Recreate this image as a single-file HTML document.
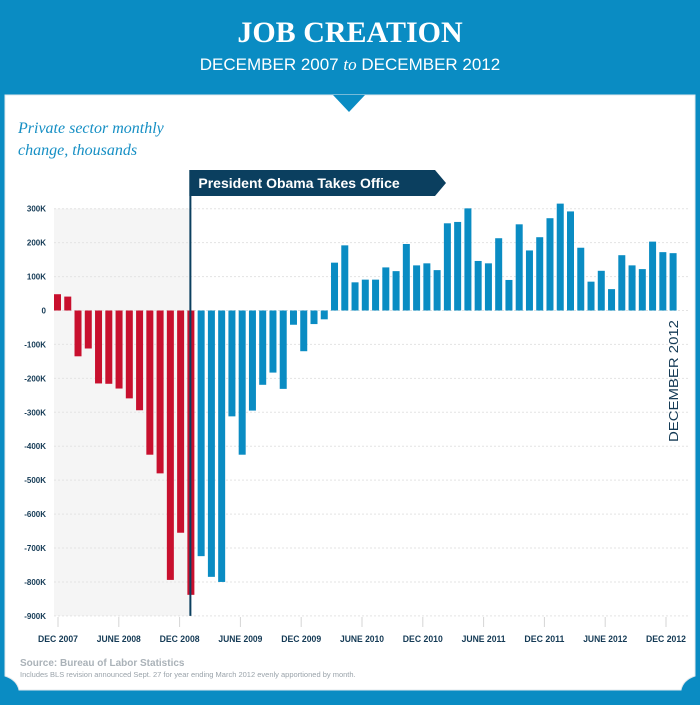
<!DOCTYPE html>
<html><head><meta charset="utf-8"><style>
body{margin:0;width:700px;height:700px;overflow:hidden;background:#0a8cc3;font-family:"Liberation Sans",sans-serif}
</style></head><body>
<svg width="700" height="700" xmlns="http://www.w3.org/2000/svg">
<rect x="0" y="0" width="700" height="700" fill="#0a8cc3"/>
<path d="M5 95 H695 V676 Q683 680 681 690 H19 Q17 680 5 676 Z" fill="#fff" stroke="#e2e8ec"/>
<path d="M333 95 L349 112 L365 95 Z" fill="#0a8cc3"/>
<text x="350" y="42" text-anchor="middle" fill="#fff" font-family="Liberation Serif,serif" font-weight="bold" font-size="30">JOB CREATION</text>
<text x="350" y="70" text-anchor="middle" fill="#fff" font-size="17">DECEMBER 2007 <tspan font-family="Liberation Serif,serif" font-style="italic">to</tspan> DECEMBER 2012</text>
<text x="18" y="133" fill="#168fc4" font-family="Liberation Serif,serif" font-style="italic" font-size="16">Private sector monthly</text>
<text x="18" y="155" fill="#168fc4" font-family="Liberation Serif,serif" font-style="italic" font-size="16">change, thousands</text>
<g id="chart"></g>
<text x="20" y="666" fill="#aab2b8" font-size="10" font-weight="bold">Source: Bureau of Labor Statistics</text>
<text x="20" y="677" fill="#9aa3aa" font-size="7.5">Includes BLS revision announced Sept. 27 for year ending March 2012 evenly apportioned by month.</text>
</svg>
<script>
const values=[48,41,-135,-112,-215,-216,-230,-259,-294,-425,-480,-794,-655,-838,-724,-785,-800,-312,-425,-295,-219,-183,-231,-42,-120,-40,-26,141,192,83,91,91,127,116,196,133,139,119,257,261,301,146,139,213,90,254,177,216,272,315,292,185,85,117,63,163,133,122,203,172,169];
const yTicks=[300,200,100,0,-100,-200,-300,-400,-500,-600,-700,-800,-900];
const yTickLabels=["300K","200K","100K","0","-100K","-200K","-300K","-400K","-500K","-600K","-700K","-800K","-900K"];
const xLabels=["DEC 2007","JUNE 2008","DEC 2008","JUNE 2009","DEC 2009","JUNE 2010","DEC 2010","JUNE 2011","DEC 2011","JUNE 2012","DEC 2012"];
const obamaIndex=13;
const NS="http://www.w3.org/2000/svg";
const g=document.getElementById('chart');
const y=v=>310.5-v*0.3393;
const step=10.26,bw=7;
const xc=i=>57.5+i*step;
function mk(t,a){const e=document.createElementNS(NS,t);for(const k in a)e.setAttribute(k,a[k]);g.appendChild(e);return e;}
let sh=mk('rect',{x:54,y:y(300),width:xc(obamaIndex)-54,height:y(-900)-y(300),fill:'#f5f5f5'});


yTicks.forEach((v,i)=>{
 let l=mk('line',{x1:54,x2:690,y1:y(v),y2:y(v),stroke:'#e3e3e3','stroke-dasharray':'2,2'});
 
 
 let t=mk('text',{x:46,y:y(v)+3,'text-anchor':'end','font-size':'8','font-weight':'bold',fill:'#143a55'});
 t.textContent=yTickLabels[i];
 
 
});
xLabels.forEach((s,i)=>{
 const x=58+i*60.8;
 let l=mk('line',{x1:x,x2:x,y1:617,y2:627,stroke:'#d5d5d5'});
 
 
 let t=mk('text',{x:x,y:642,'text-anchor':'middle','font-size':'9','font-weight':'bold',fill:'#143a55','textLength':s.length>8?44:40,'lengthAdjust':'spacingAndGlyphs'});
 t.textContent=s;
 
 
});
values.forEach((v,i)=>{
 let r=mk('rect',{x:xc(i)-bw/2,y:Math.min(y(v),y(0)),width:bw,height:Math.abs(y(v)-y(0)),fill:i<=obamaIndex?'#c8102e':'#0a8cc3'});
 
 
});
const ox=xc(obamaIndex)-0.5;
let ln=mk('line',{x1:ox,x2:ox,y1:170,y2:y(-900),stroke:'#0b3f5f','stroke-width':2});


let bn=mk('path',{d:`M${ox-1} 170 H435 L446 183 L435 196 H${ox-1} Z`,fill:'#0b3f5f'});


let bt=mk('text',{x:ox+8,y:188,'font-size':'14','font-weight':'bold',fill:'#fff'});
bt.textContent='President Obama Takes Office';


let dt=mk('text',{x:0,y:0,'font-size':'13',fill:'#143a55',transform:'translate(678,442) rotate(-90)','textLength':122,'lengthAdjust':'spacingAndGlyphs'});
dt.textContent='DECEMBER  2012';


</script>
</body></html>
